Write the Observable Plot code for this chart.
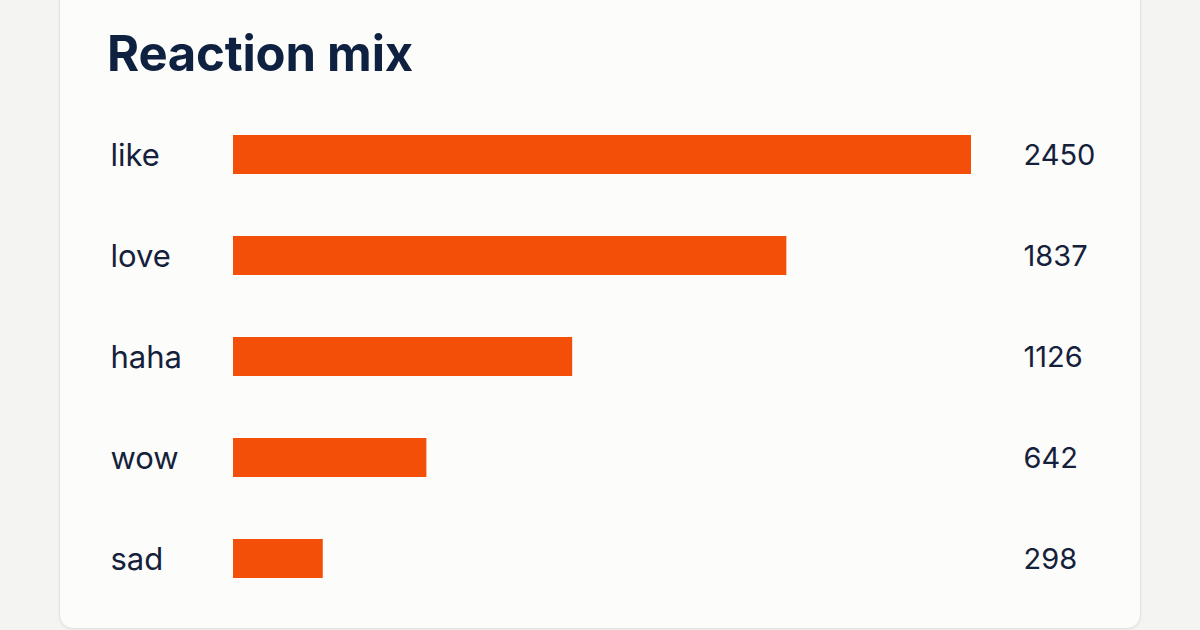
<!DOCTYPE html>
<html>
<head>
<meta charset="utf-8">
<script src="https://cdn.jsdelivr.net/npm/d3@7"></script>
<script src="https://cdn.jsdelivr.net/npm/@observablehq/plot@0.6"></script>
<style>
  html, body { margin: 0; padding: 0; width: 1200px; height: 630px; overflow: hidden; background: #f4f4f3; }
  .card { position: absolute; left: 59px; top: -20px; width: 1080px; height: 647px; background: #fcfcfb;
          border: 1px solid #e2e2e0; border-radius: 14px; box-shadow: 0 1px 3px rgba(0,0,0,0.05); }
  .title { position: absolute; left: 107px; top: 24px; margin: 0; font-family: Inter, sans-serif;
           font-weight: 700; font-size: 49px; color: #0e2140; letter-spacing: -0.2px; white-space: nowrap; }
  #chart { position: absolute; left: 0; top: 100px; }
</style>
</head>
<body>
<div class="card"></div>
<h1 class="title">Reaction mix</h1>
<div id="chart"></div>
<script>
const reactions = ["like", "love", "haha", "wow", "sad"];
const counts = [2450, 1837, 1126, 642, 298];

const data = reactions.map((r, i) => ({reaction: r, count: counts[i]}));

const chart = Plot.plot({
  width: 1200,
  height: 530,
  marginLeft: 233,
  marginRight: 229,
  marginTop: 3.5,
  marginBottom: 20.5,
  style: {background: "transparent", fontFamily: "Inter, sans-serif"},
  x: {domain: [0, 2450], axis: null},
  y: {domain: reactions, axis: null, paddingInner: 0.616, paddingOuter: 0.3},
  marks: [
    Plot.barX(data, {x: "count", y: "reaction", fill: "#f44f08"}),
    Plot.text(data, {y: "reaction", text: "reaction", frameAnchor: "left", textAnchor: "start", dx: -123, dy: 1,
      fontSize: 31, fill: "#15213a"}),
    Plot.text(data, {y: "reaction", text: d => String(d.count), frameAnchor: "right", textAnchor: "start", dx: 52, dy: 1,
      fontSize: 29, fill: "#15213a"})
  ]
});
document.getElementById("chart").appendChild(chart);
</script>
</body>
</html>
